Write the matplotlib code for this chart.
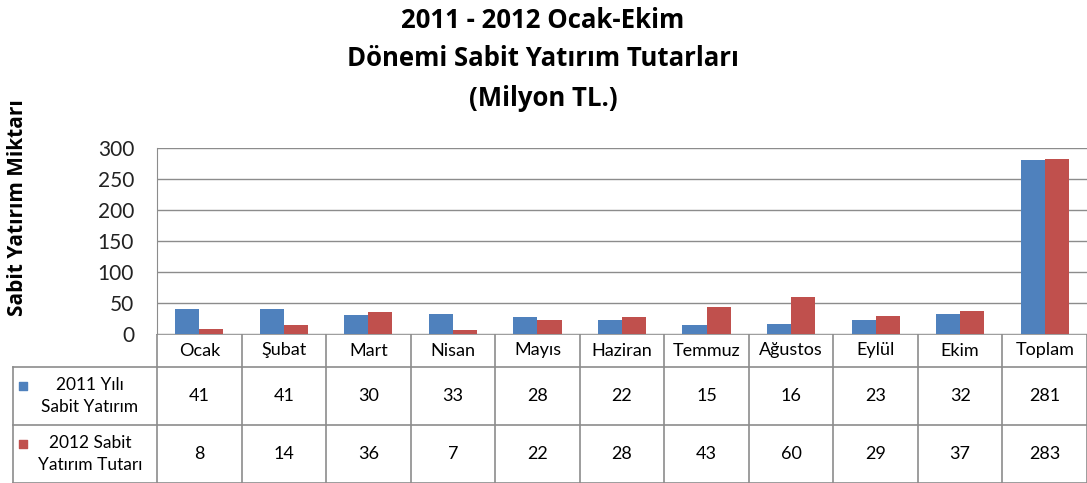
import matplotlib
matplotlib.use("Agg")
import matplotlib.pyplot as plt
import numpy as np

months = ["Ocak", "Şubat", "Mart", "Nisan", "Mayıs", "Haziran", "Temmuz",
          "Ağustos", "Eylül", "Ekim", "Toplam"]
vals_2011 = [41, 41, 30, 33, 28, 22, 15, 16, 23, 32, 281]
vals_2012 = [8, 14, 36, 7, 22, 28, 43, 60, 29, 37, 283]
series_names = ["2011 Yılı\nSabit Yatırım", "2012 Sabit\nYatırım Tutarı"]
colors = ["#4F81BD", "#C0504D"]
yticks = [0, 50, 100, 150, 200, 250, 300]

plt.rcParams['font.family'] = ['Lato', 'DejaVu Sans']

W, H = 1087, 483
fig = plt.figure(figsize=(W / 100, H / 100), dpi=100)

# pixel layout
px_left, px_right = 157, 1087
px_top, px_bottom = 148, 334
row_edges = [334, 367, 425, 483]
lab_left = 12

ax = fig.add_axes([px_left / W, 1 - px_bottom / H,
                   (px_right - px_left) / W, (px_bottom - px_top) / H])
n = len(months)
x = np.arange(n)
bw = 0.285
ax.bar(x - bw / 2, vals_2011, bw, color=colors[0], zorder=3)
ax.bar(x + bw / 2, vals_2012, bw, color=colors[1], zorder=3)
ax.set_xlim(-0.5, n - 0.5)
ax.set_ylim(0, 300)
ax.set_yticks(yticks)
ax.set_xticks([])
ax.tick_params(axis='y', length=0, labelsize=15, pad=16.5, colors='#222222')
ax.yaxis.grid(True, color='#8C8C8C', linewidth=1)
ax.set_axisbelow(True)
for s in ['top', 'right', 'bottom']:
    ax.spines[s].set_visible(False)
ax.spines['left'].set_color('#8C8C8C')

# data table axes
col_w = (px_right - px_left) / n
tax = fig.add_axes([lab_left / W, 0, (px_right - lab_left) / W, (H - row_edges[0]) / H])
x0 = -0.5 - (px_left - lab_left) / col_w
tax.set_xlim(x0, n - 0.5)
tax.set_ylim(row_edges[-1], row_edges[0])
tax.axis('off')
lc = '#8C8C8C'
# vertical lines between categories
for i in range(n + 1):
    tax.plot([i - 0.5, i - 0.5], [row_edges[0], row_edges[-1]], color=lc, lw=1.2)
# horizontal lines
tax.plot([-0.5, n - 0.5], [row_edges[0], row_edges[0]], color=lc, lw=1.2)
for r in row_edges[1:]:
    tax.plot([x0 + 0.01, n - 0.5], [r, r], color=lc, lw=1.2)
tax.plot([x0 + 0.01, x0 + 0.01], [row_edges[1], row_edges[-1]], color=lc, lw=1.2)

for i, m in enumerate(months):
    tax.text(i, (row_edges[0] + row_edges[1]) / 2, m, ha='center', va='center', fontsize=13)
for r, vals in enumerate([vals_2011, vals_2012]):
    yc = (row_edges[r + 1] + row_edges[r + 2]) / 2
    for i, v in enumerate(vals):
        tax.text(i, yc, str(v), ha='center', va='center', fontsize=13)
    tax.scatter([x0 + 0.13], [yc - 10], marker='s', s=40, color=colors[r], clip_on=False)
    tax.text(-0.5 - (px_left - 90) / col_w, yc, series_names[r], ha='center', va='center',
             fontsize=12.5, linespacing=1.5)

title_font = ['Open Sans', 'DejaVu Sans']
fig.text(543 / W, 1 - 20 / H, "2011 - 2012 Ocak-Ekim", ha='center', va='center',
         fontsize=18.5, fontweight='bold', family=title_font)
fig.text(543 / W, 1 - 59 / H, "Dönemi Sabit Yatırım Tutarları", ha='center', va='center',
         fontsize=18.5, fontweight='bold', family=title_font)
fig.text(543 / W, 1 - 98 / H, "(Milyon TL.)", ha='center', va='center',
         fontsize=18.5, fontweight='bold', family=title_font)
fig.text(18 / W, 1 - 208 / H, "Sabit Yatırım Miktarı", rotation=90, ha='center', va='center',
         fontsize=15, fontweight='bold', family=title_font)

fig.savefig("out.png", dpi=100)
